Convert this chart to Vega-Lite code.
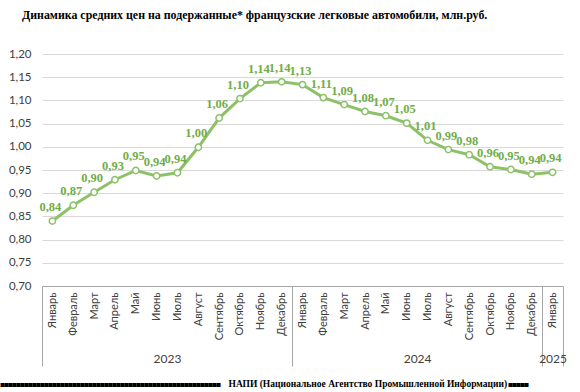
{
  "$schema": "https://vega.github.io/schema/vega-lite/v6.json",
  "autosize": "none",
  "width": 521,
  "height": 232,
  "padding": {"left": 42, "top": 54, "right": 17, "bottom": 106},
  "background": "white",
  "title": {
    "text": "Динамика средних цен на подержанные* французские легковые автомобили, млн.руб.",
    "anchor": "start",
    "frame": "group",
    "dx": -20,
    "offset": 26,
    "font": "Liberation Sans Narrow",
    "fontSize": 11.9,
    "fontWeight": "bold",
    "color": "#000000"
  },
  "config": {
    "locale": {"number": {"decimal": ",", "thousands": " ", "grouping": [3], "currency": ["", ""]}},
    "view": {"stroke": null},
    "axis": {"labelFont": "Lato", "labelColor": "#404040", "titleFont": "Lato"}
  },
  "data": {
    "values": [
      {"idx": 0, "month": "Январь", "year": 2023, "value": 0.84},
      {"idx": 1, "month": "Февраль", "year": 2023, "value": 0.874},
      {"idx": 2, "month": "Март", "year": 2023, "value": 0.902},
      {"idx": 3, "month": "Апрель", "year": 2023, "value": 0.929},
      {"idx": 4, "month": "Май", "year": 2023, "value": 0.949},
      {"idx": 5, "month": "Июнь", "year": 2023, "value": 0.937},
      {"idx": 6, "month": "Июль", "year": 2023, "value": 0.944},
      {"idx": 7, "month": "Август", "year": 2023, "value": 0.999},
      {"idx": 8, "month": "Сентябрь", "year": 2023, "value": 1.062},
      {"idx": 9, "month": "Октябрь", "year": 2023, "value": 1.104},
      {"idx": 10, "month": "Ноябрь", "year": 2023, "value": 1.138},
      {"idx": 11, "month": "Декабрь", "year": 2023, "value": 1.14},
      {"idx": 12, "month": "Январь", "year": 2024, "value": 1.134},
      {"idx": 13, "month": "Февраль", "year": 2024, "value": 1.106},
      {"idx": 14, "month": "Март", "year": 2024, "value": 1.091},
      {"idx": 15, "month": "Апрель", "year": 2024, "value": 1.076},
      {"idx": 16, "month": "Май", "year": 2024, "value": 1.067},
      {"idx": 17, "month": "Июнь", "year": 2024, "value": 1.051},
      {"idx": 18, "month": "Июль", "year": 2024, "value": 1.014},
      {"idx": 19, "month": "Август", "year": 2024, "value": 0.994},
      {"idx": 20, "month": "Сентябрь", "year": 2024, "value": 0.983},
      {"idx": 21, "month": "Октябрь", "year": 2024, "value": 0.957},
      {"idx": 22, "month": "Ноябрь", "year": 2024, "value": 0.951},
      {"idx": 23, "month": "Декабрь", "year": 2024, "value": 0.941},
      {"idx": 24, "month": "Январь", "year": 2025, "value": 0.945}
    ]
  },
  "encoding": {
    "y": {
      "field": "value", "type": "quantitative",
      "scale": {"domain": [0.7, 1.2], "nice": false, "zero": false},
      "axis": {
        "values": [0.7, 0.75, 0.8, 0.85, 0.9, 0.95, 1.0, 1.05, 1.1, 1.15, 1.2],
        "format": ".2f", "title": null, "domain": false, "ticks": false, "labelOverlap": false,
        "gridColor": "#d9d9d9", "gridWidth": 1, "labelFontSize": 11.5, "labelPadding": 11
      }
    }
  },
  "resolve": {"axis": {"x": "independent"}},
  "layer": [
    {
      "mark": {"type": "line", "color": "#8cc168", "strokeWidth": 3},
      "encoding": {
        "x": {
          "field": "idx", "type": "quantitative",
          "scale": {"domain": [-0.5, 24.5], "nice": false, "zero": false},
          "axis": {
            "orient": "bottom",
            "values": [0,1,2,3,4,5,6,7,8,9,10,11,12,13,14,15,16,17,18,19,20,21,22,23,24],
            "labelExpr": "['Январь','Февраль','Март','Апрель','Май','Июнь','Июль','Август','Сентябрь','Октябрь','Ноябрь','Декабрь'][datum.value % 12]",
            "labelAngle": -90, "labelAlign": "right", "labelBaseline": "middle",
            "labelFontSize": 11, "labelPadding": 6, "labelOverlap": false, "labelFlush": false,
            "ticks": false, "grid": false, "domain": true, "domainColor": "#a6a6a6", "domainWidth": 1,
            "title": "█████", "titleX": 466, "titleY": 99.5, "titleAlign": "left", "titleBaseline": "middle",
            "titleFont": "Noto Sans CJK SC", "titleFontSize": 4, "titleFontWeight": "normal", "titleColor": "#000000"
          }
        }
      }
    },
    {
      "mark": {"type": "point", "filled": true, "fill": "white", "stroke": "#8cc168", "strokeWidth": 1.5, "size": 40, "opacity": 1},
      "encoding": {
        "x": {
          "field": "idx", "type": "quantitative",
          "axis": {
            "orient": "bottom", "values": [-0.5, 11.5, 23.5, 24.5],
            "labels": false, "ticks": true, "tickSize": 80, "tickColor": "#a6a6a6", "tickWidth": 1,
            "domain": false, "grid": false,
            "title": "███████████████████████████████████████████████████████", "titleX": -42, "titleY": 99.5, "titleAlign": "left", "titleBaseline": "middle",
            "titleFont": "Noto Sans CJK SC", "titleFontSize": 4, "titleFontWeight": "normal", "titleColor": "#000000"
          }
        }
      }
    },
    {
      "mark": {"type": "text", "dy": -14, "dx": -2, "font": "Liberation Sans Narrow", "fontSize": 12.5, "fontWeight": "bold", "color": "#70ad47"},
      "encoding": {
        "x": {
          "field": "idx", "type": "quantitative",
          "axis": {
            "orient": "bottom", "values": [5.5, 17.5, 24],
            "labelExpr": "datum.value < 12 ? '2023' : datum.value < 23 ? '2024' : '2025'",
            "labelFontSize": 12, "labelPadding": 67, "labelBaseline": "top", "labelAlign": "center",
            "ticks": false, "domain": false, "grid": false,
            "title": "НАПИ (Национальное Агентство Промышленной Информации)", "titleX": 186, "titleY": 97, "titleAlign": "left", "titleBaseline": "middle",
            "titleFont": "Liberation Sans Narrow", "titleFontSize": 9.5, "titleFontWeight": "bold", "titleColor": "#000000"
          }
        },
        "text": {"field": "value", "type": "quantitative", "format": ".2f"}
      }
    }
  ]
}
